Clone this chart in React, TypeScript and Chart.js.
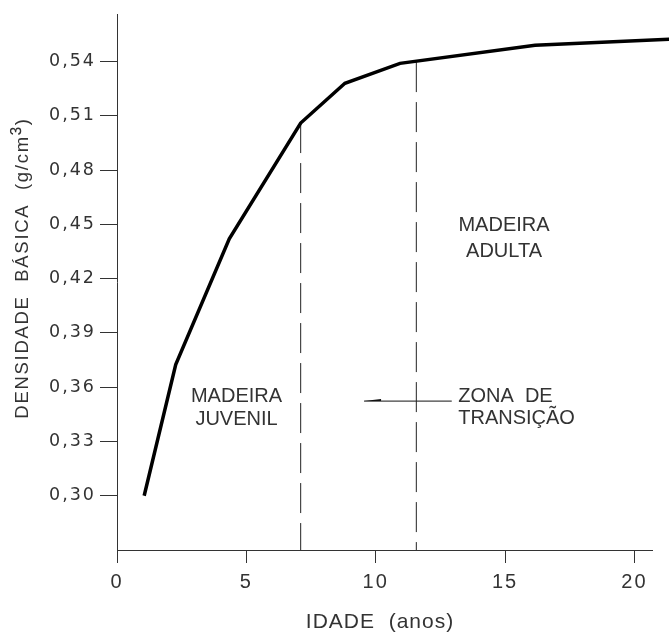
import React, { useEffect, useRef } from 'react';
import { Chart, registerables } from 'chart.js';

Chart.register(...registerables);

// ---- data ----
const AGE = [1.05, 2.27, 4.34, 7.1, 8.81, 10.94, 16.16, 21.34];
const DENSITY = [0.3, 0.3725, 0.442, 0.506, 0.528, 0.539, 0.549, 0.5523];
const Y_TICKS = [0.3, 0.33, 0.36, 0.39, 0.42, 0.45, 0.48, 0.51, 0.54];
const X_TICKS = [0, 5, 10, 15, 20];
const BOUNDARY_AGE = [7.1, 11.57];
const BOUNDARY_TOP = [0.506, 0.5397];
const ARROW_AGE = [9.55, 12.94];
const ARROW_DENSITY = 0.3523;
const X_TITLE = 'IDADE  (anos)';
const Y_TITLE_PARTS = ['DENSIDADE  BÁSICA  (g/cm', '³', ')'];
const REGION_TEXT = [
  { lines: ['MADEIRA', 'JUVENIL'], age: 4.62, density: 0.355, align: 'center', gap: 23.5 },
  { lines: ['MADEIRA', 'ADULTA'], age: 14.96, density: 0.4494, align: 'center', gap: 26 },
  { lines: ['ZONA  DE', 'TRANSIÇÃO'], age: 13.19, density: 0.355, align: 'left', gap: 22 },
];

const X_MIN = 0;
const X_MAX = 20.68;
const Y_MIN = 0.27;
const Y_MAX = 0.566;

const FONT = '"Liberation Sans", Arial, sans-serif';
const TICK_FONT_Y = '"DejaVu Sans", sans-serif';
const TEXT_COLOR = '#333';
const AXIS_COLOR = '#333';

const cadTextPlugin = {
  id: 'cadText',
  beforeDraw(chart: any) {
    chart.ctx.letterSpacing = '2px';
  },
  afterDraw(chart: any) {
    const { ctx, scales } = chart;
    const xs = scales.x;
    const ys = scales.y;
    ctx.save();
    ctx.fillStyle = TEXT_COLOR;
    ctx.textBaseline = 'middle';

    // region annotations
    ctx.font = `20px ${FONT}`;
    ctx.letterSpacing = '0px';
    for (const t of REGION_TEXT) {
      const px = xs.getPixelForValue(t.age);
      const py = ys.getPixelForValue(t.density);
      ctx.textAlign = t.align;
      t.lines.forEach((line, i) => ctx.fillText(line, px, py + i * t.gap));
    }

    // arrow head of the "zona de transição" pointer
    const ax = xs.getPixelForValue(ARROW_AGE[0]);
    const ay = ys.getPixelForValue(ARROW_DENSITY);
    ctx.fillStyle = '#111';
    ctx.beginPath();
    ctx.moveTo(ax, ay);
    ctx.lineTo(ax + 17, ay - 2);
    ctx.lineTo(ax + 17, ay);
    ctx.closePath();
    ctx.fill();

    // x axis title
    ctx.fillStyle = TEXT_COLOR;
    ctx.font = `21px ${FONT}`;
    ctx.letterSpacing = '1px';
    ctx.textAlign = 'center';
    ctx.fillText(X_TITLE, 380, 622);

    // y axis title (rotated, with a raised 3)
    ctx.save();
    ctx.translate(28, 268);
    ctx.rotate(-Math.PI / 2);
    ctx.textAlign = 'left';
    ctx.textBaseline = 'alphabetic';
    ctx.letterSpacing = '1.7px';
    const fonts = [`18.5px ${FONT}`, `25px ${FONT}`, `18.5px ${FONT}`];
    const widths = Y_TITLE_PARTS.map((p, i) => {
      ctx.font = fonts[i];
      return ctx.measureText(p).width;
    });
    let cx = -widths.reduce((a, b) => a + b, 0) / 2;
    Y_TITLE_PARTS.forEach((p, i) => {
      ctx.font = fonts[i];
      ctx.fillText(p, cx, 0);
      cx += widths[i];
    });
    ctx.restore();

    ctx.restore();
  },
};

export default function App() {
  const ref = useRef<HTMLCanvasElement>(null);

  useEffect(() => {
    document.body.style.margin = '0';
    const curve = AGE.map((a, i) => ({ x: a, y: DENSITY[i] }));
    const boundaries = BOUNDARY_AGE.map((a, i) => ({
      data: [
        { x: a, y: BOUNDARY_TOP[i] },
        { x: a, y: Y_MIN },
      ],
      borderColor: '#222',
      borderWidth: 1,
      borderDash: [30, 10],
      pointRadius: 0,
      fill: false,
    }));
    const arrow = {
      data: ARROW_AGE.map((a) => ({ x: a, y: ARROW_DENSITY })),
      borderColor: '#111',
      borderWidth: 1,
      pointRadius: 0,
      fill: false,
    };

    const chart = new Chart(ref.current as HTMLCanvasElement, {
      type: 'line',
      data: {
        datasets: [
          {
            data: curve,
            borderColor: '#000',
            borderWidth: 3.5,
            pointRadius: 0,
            tension: 0,
            fill: false,
            clip: false,
          } as any,
          ...boundaries,
          arrow,
        ],
      },
      options: {
        responsive: false,
        maintainAspectRatio: false,
        devicePixelRatio: 1,
        animation: false,
        events: [],
        layout: { padding: { left: 0, top: 13, right: 17, bottom: 0 } },
        plugins: { legend: { display: false }, tooltip: { enabled: false } },
        scales: {
          x: {
            type: 'linear',
            min: X_MIN,
            max: X_MAX,
            afterFit: (s: any) => {
              s.height = 82;
            },
            afterBuildTicks: (s: any) => {
              s.ticks = X_TICKS.map((v) => ({ value: v }));
            },
            grid: {
              drawOnChartArea: false,
              drawTicks: true,
              tickLength: 13,
              color: AXIS_COLOR,
              lineWidth: 1,
            },
            border: { display: true, color: AXIS_COLOR, width: 1 },
            ticks: {
              color: TEXT_COLOR,
              font: { family: FONT, size: 20 },
              padding: 7,
              maxRotation: 0,
              autoSkip: false,
              callback: (v: any) => String(v),
            },
          },
          y: {
            type: 'linear',
            min: Y_MIN,
            max: Y_MAX,
            afterFit: (s: any) => {
              s.width = 117;
            },
            afterBuildTicks: (s: any) => {
              s.ticks = Y_TICKS.map((v) => ({ value: v }));
            },
            grid: {
              drawOnChartArea: false,
              drawTicks: true,
              tickLength: 17,
              color: AXIS_COLOR,
              lineWidth: 1,
            },
            border: { display: true, color: AXIS_COLOR, width: 1 },
            ticks: {
              color: TEXT_COLOR,
              font: { family: TICK_FONT_Y, size: 17.5 },
              padding: 4,
              autoSkip: false,
              callback: (v: any) => Number(v).toFixed(2).replace('.', ','),
            },
          },
        },
      },
      plugins: [cadTextPlugin],
    } as any);

    return () => chart.destroy();
  }, []);

  return (
    <div style={{ position: 'fixed', left: 0, top: 0, width: 669, height: 632, background: '#fff' }}>
      <canvas ref={ref} width={669} height={632} style={{ display: 'block', width: 669, height: 632 }} />
    </div>
  );
}
